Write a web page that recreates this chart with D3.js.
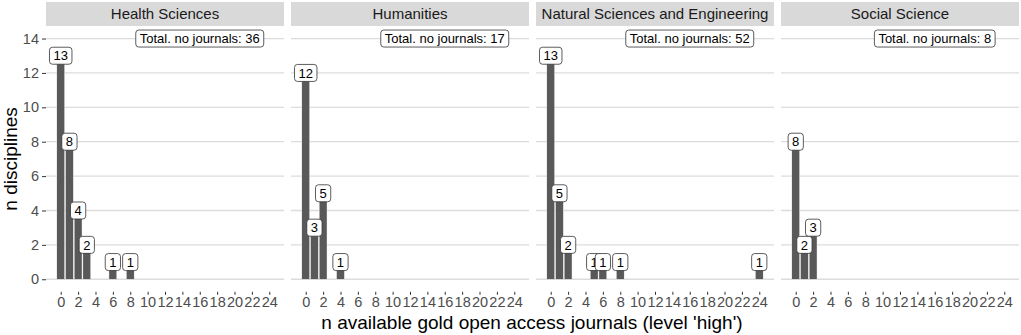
<!DOCTYPE html>
<html>
<head>
<meta charset="utf-8">
<script src="https://cdn.jsdelivr.net/npm/d3@7"></script>
<style>
  body { margin: 0; background: #fff; }
  svg { display: block; font-family: "Liberation Sans", Arial, sans-serif; }
  .tick text { font-family: "Liberation Sans", Arial, sans-serif; font-size: 14.5px; }
</style>
</head>
<body>
<svg id="chart" width="1021" height="335"></svg>
<script>
// facets and their counts (n disciplines per number of available journals)
const facets = ["Health Sciences", "Humanities", "Natural Sciences and Engineering", "Social Science"];

const healthJournals = [0, 1, 2, 3, 6, 8];
const healthCounts   = [13, 8, 4, 2, 1, 1];

const humanitiesJournals = [0, 1, 2, 4];
const humanitiesCounts   = [12, 3, 5, 1];

const naturalJournals = [0, 1, 2, 5, 6, 8, 24];
const naturalCounts   = [13, 5, 2, 1, 1, 1, 1];

const socialJournals = [0, 1, 2];
const socialCounts   = [8, 2, 3];

const totals = [36, 17, 52, 8];

const xTicks = [0, 2, 4, 6, 8, 10, 12, 14, 16, 18, 20, 22, 24];
const yTicks = [0, 2, 4, 6, 8, 10, 12, 14];

const facetData = [
  [healthJournals, healthCounts],
  [humanitiesJournals, humanitiesCounts],
  [naturalJournals, naturalCounts],
  [socialJournals, socialCounts]
].map(function(p) {
  return p[0].map(function(j, i) { return {x: j, n: p[1][i]}; });
});

var svg = d3.select("#chart");

var panelLeft = [46, 291, 536, 781],
    panelW = 238,
    stripTop = 2, stripH = 24,
    panelTop = 26.5, panelBottom = 291.3;

var x = d3.scaleLinear().domain([-1.695, 25.695]).range([0, panelW]);
var y = d3.scaleLinear().domain([-0.7, 14.7]).range([panelBottom, panelTop]);

var barFill = "#595959",
    gridCol = "#dcdcdc",
    tickText = "#4d4d4d";

// y axis (left only)
var yAxis = svg.append("g")
    .attr("transform", "translate(" + panelLeft[0] + ",0)")
    .call(d3.axisLeft(y).tickValues(yTicks).tickSize(4).tickPadding(3));
yAxis.attr("font-size", 14.5).attr("font-family", null);
yAxis.select(".domain").remove();
yAxis.selectAll("line").attr("stroke", "#333").attr("stroke-width", 1);
yAxis.selectAll("text").attr("fill", tickText);

facets.forEach(function(name, fi) {
  var g = svg.append("g").attr("transform", "translate(" + panelLeft[fi] + ",0)");
  var data = facetData[fi];

  // strip
  g.append("rect")
      .attr("x", 0).attr("y", stripTop)
      .attr("width", panelW).attr("height", stripH)
      .attr("fill", "#d9d9d9");
  g.append("text")
      .attr("x", panelW / 2).attr("y", stripTop + stripH / 2 + 5)
      .attr("text-anchor", "middle")
      .style("font-size", "15px")
      .attr("fill", "#1a1a1a")
      .text(name);

  // grid
  g.selectAll(".grid").data(yTicks).enter().append("line")
      .attr("x1", 0).attr("x2", panelW)
      .attr("y1", function(d) { return y(d); })
      .attr("y2", function(d) { return y(d); })
      .attr("stroke", gridCol).attr("stroke-width", 1.3);

  // bars
  g.selectAll(".bar").data(data).enter().append("rect")
      .attr("x", function(d) { return x(d.x - 0.45); })
      .attr("width", function(d) { return x(d.x + 0.45) - x(d.x - 0.45); })
      .attr("y", function(d) { return y(d.n); })
      .attr("height", function(d) { return y(0) - y(d.n); })
      .attr("fill", barFill)
      .attr("stroke", "#fff").attr("stroke-width", 0.4);

  // x axis
  var xa = g.append("g")
      .attr("transform", "translate(0," + (panelBottom + 0.5) + ")")
      .call(d3.axisBottom(x).tickValues(xTicks).tickSize(3).tickPadding(2));
  xa.attr("font-size", 14.5).attr("font-family", null);
  xa.select(".domain").remove();
  xa.selectAll("line").attr("stroke", "#333");
  xa.selectAll("text").attr("fill", tickText);

  // value labels
  function label(px, py, txt, fs) {
    var lg = g.append("g");
    var t = lg.append("text")
        .attr("x", px).attr("y", py + fs * 0.36)
        .attr("text-anchor", "middle")
        .style("font-size", fs + "px")
        .attr("fill", "#000")
        .text(txt);
    var w = t.node().getComputedTextLength() + 8;
    var h = 17;
    lg.insert("rect", "text")
        .attr("x", px - w / 2).attr("y", py - h / 2)
        .attr("width", w).attr("height", h)
        .attr("rx", 3).attr("ry", 3)
        .attr("fill", "#fff").attr("stroke", "#333").attr("stroke-width", 0.8);
  }

  data.forEach(function(d) { label(x(d.x), y(d.n), d.n, 13); });
  label(x(16), y(14), "Total. no journals: " + totals[fi], 13);
});

// axis titles
svg.append("text")
    .attr("x", 532).attr("y", 329)
    .attr("text-anchor", "middle")
    .style("font-size", "19px")
    .attr("fill", "#000")
    .text("n available gold open access journals (level 'high')");

svg.append("text")
    .attr("transform", "translate(17," + ((panelTop + panelBottom) / 2) + ") rotate(-90)")
    .attr("text-anchor", "middle")
    .style("font-size", "19px")
    .attr("fill", "#000")
    .text("n disciplines");
</script>
</body>
</html>
